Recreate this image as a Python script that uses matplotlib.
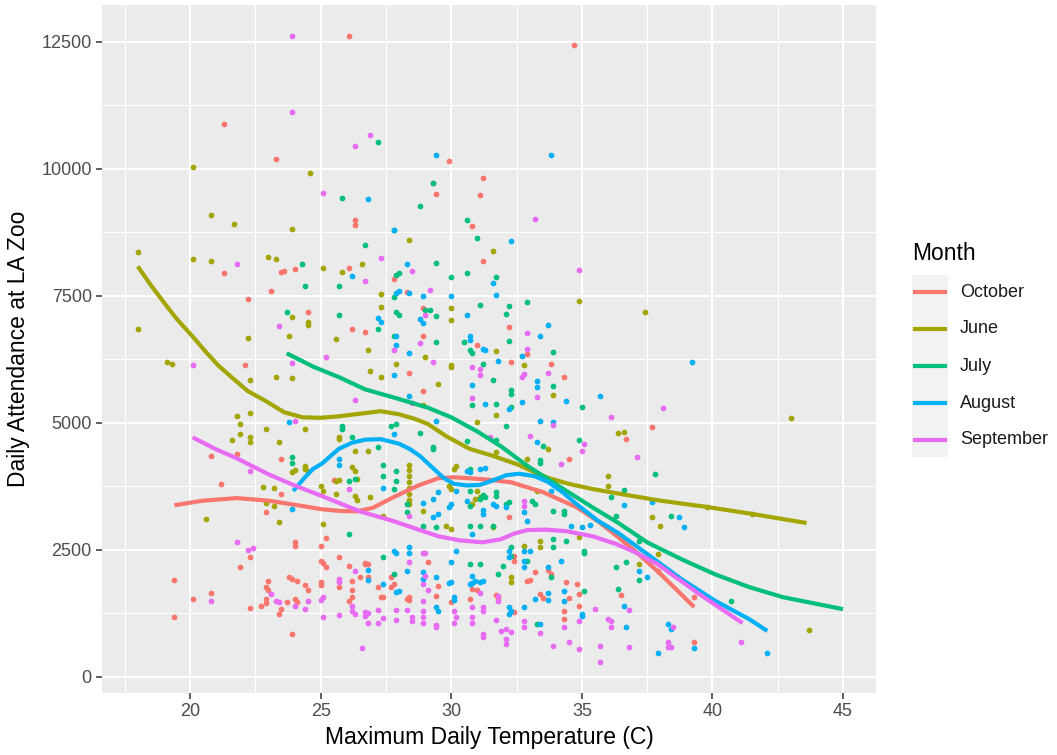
import numpy as np
import matplotlib
matplotlib.use("Agg")
import matplotlib.pyplot as plt
from matplotlib.lines import Line2D
from matplotlib.patches import Rectangle

plt.rcParams['font.family'] = ['Liberation Sans', 'DejaVu Sans']

# --- month order and ggplot hue colours ---
months = ["October", "June", "July", "August", "September"]
colors = ["#F8766D", "#A3A500", "#00BF7D", "#00B0F6", "#E76BF3"]

# --- daily points: (max temp C, attendance) ---
october_pts = [
    (21.3, 10880), (23.3, 10190), (26.3, 8900), (26.3, 9000), (26.1, 12610),
    (34.7, 12430), (29.9, 10155), (31.2, 9820), (29.3, 9720), (29.4, 9505),
    (31.1, 9485), (30.8, 8875), (21.3, 7955), (23.5, 7975), (23.6, 7990),
    (24.0, 8035), (23.1, 7600), (22.2, 7445), (26.1, 8050), (24.5, 7190),
    (26.2, 6855), (22.1, 6145), (20.8, 4340), (21.8, 4380), (23.5, 4280),
    (31.2, 8190), (27.8, 7835), (28.3, 7580), (28.9, 7265), (32.2, 6895),
    (26.7, 6795), (28.9, 6700), (28.4, 5990), (31.0, 6540), (32.3, 6205),
    (32.9, 6365), (33.8, 6165), (34.3, 5910), (28.9, 5635), (34.5, 4280),
    (36.7, 4675), (37.7, 4910), (37.9, 2080), (36.5, 1610), (39.3, 1570),
    (39.3, 690), (21.2, 3790), (22.9, 3240), (23.5, 3595), (25.5, 3870),
    (25.2, 2730), (24.0, 2650), (24.0, 2575), (25.0, 2575), (22.3, 2355),
    (21.9, 2160), (19.4, 1905), (20.1, 1530), (20.8, 1650), (19.4, 1180),
    (22.3, 1355), (23.0, 1885), (22.9, 1770), (23.0, 1710), (22.9, 1530),
    (22.9, 1455), (22.7, 1395), (23.5, 1335), (23.4, 1235), (23.7, 1475),
    (23.8, 1965), (23.9, 1925), (24.1, 1885), (24.4, 1805), (24.5, 1710),
    (24.0, 1530), (24.1, 1475), (23.9, 845), (25.0, 2280), (25.1, 2240),
    (25.2, 2160), (25.0, 1865), (25.0, 1805), (25.7, 2355), (25.7, 1770),
    (26.1, 2180), (26.2, 1885), (26.2, 1710), (26.2, 1570), (26.1, 1490),
    (26.5, 1965), (26.7, 2220), (32.2, 3140), (26.7, 2240), (26.8, 2220),
    (26.8, 1965), (27.7, 1965), (27.8, 1825), (27.7, 1770), (27.2, 1770),
    (27.3, 1570), (27.4, 1570), (28.4, 1570), (28.4, 1510), (28.3, 1530),
    (29.1, 2260), (29.5, 1790), (29.4, 1590), (30.0, 1475), (30.8, 1730),
    (31.0, 1710), (30.7, 1530), (31.7, 1610), (31.8, 1550), (32.4, 2375),
    (32.4, 2280), (33.2, 2060), (32.9, 1885), (33.0, 1905), (33.4, 1630),
    (33.5, 1550), (33.7, 2100), (33.8, 2020), (34.4, 1865), (34.5, 1550),
    (34.8, 1825), (34.9, 1630), (34.3, 1295), (34.3, 1140), (34.9, 1395),
    (32.4, 1275),
]

june_pts = [
    (20.1, 10035), (24.6, 9920), (20.8, 9090), (21.7, 8915), (23.9, 8820),
    (28.4, 8600), (18.0, 8365), (18.0, 6855), (20.1, 8230), (20.8, 8190),
    (23.0, 8270), (23.3, 8230), (25.1, 8050), (25.8, 7975), (26.6, 8130),
    (23.9, 7090), (24.5, 6990), (24.5, 6930), (23.8, 6700), (22.2, 6680),
    (25.6, 6660), (19.1, 6205), (19.3, 6165), (22.3, 5835), (23.3, 5910),
    (23.9, 5890), (21.8, 5145), (22.3, 5185), (21.9, 4970), (21.9, 4790),
    (21.6, 4655), (22.3, 4715), (22.3, 4615), (22.9, 4870), (23.4, 4615),
    (24.4, 4870), (24.4, 4145), (25.7, 4730), (25.7, 4675), (26.3, 4440),
    (26.2, 4125), (31.6, 8385), (34.9, 7405), (27.3, 7540), (27.3, 7285),
    (30.0, 7265), (30.0, 7030), (29.0, 6305), (26.8, 6440), (26.9, 6030),
    (27.3, 5910), (27.9, 6165), (29.5, 5775), (30.0, 6145), (30.0, 6090),
    (31.7, 6420), (32.8, 6145), (33.9, 5540), (31.7, 5165), (31.0, 5010),
    (28.9, 5360), (26.8, 4440), (31.7, 4420), (33.7, 4480), (32.9, 4280),
    (36.4, 4810), (37.4, 7190), (43.0, 5105), (36.6, 4830), (37.7, 3140),
    (38.0, 2965), (39.8, 3340), (41.5, 3200), (37.9, 2415), (37.2, 2220),
    (43.7, 925), (22.8, 3730), (23.2, 3710), (22.9, 3420), (23.2, 3360),
    (23.4, 3045), (20.6, 3105), (23.9, 4025), (24.0, 4065), (24.4, 4085),
    (24.5, 4045), (25.0, 3750), (25.6, 3850), (25.7, 3870), (26.3, 4045),
    (26.4, 3890), (25.1, 3655), (25.6, 3595), (26.3, 3555), (26.4, 3475),
    (25.1, 3005), (28.4, 4180), (28.4, 4065), (28.4, 3950), (28.4, 3830),
    (28.4, 3710), (28.4, 3595), (28.4, 3480), (26.9, 3535), (28.4, 3400),
    (27.4, 3160), (28.9, 3260), (29.8, 2965), (30.0, 2905), (29.9, 3750),
    (30.0, 3690), (30.1, 4085), (30.2, 4145), (30.8, 3400), (30.9, 3495),
    (31.0, 3655), (31.1, 3535), (31.6, 2945), (33.3, 3655), (36.0, 3950),
    (36.0, 3750), (34.9, 2750), (33.4, 2670), (33.4, 2555), (32.8, 2575),
    (32.3, 1965), (32.3, 1865),
]

july_pts = [
    (25.8, 9425), (27.2, 10525), (29.3, 9720), (28.8, 9270), (30.6, 8995),
    (27.8, 8800), (31.0, 8640), (26.7, 8500), (24.3, 8130), (24.4, 7700),
    (25.7, 7700), (23.7, 7190), (25.7, 7130), (23.9, 4320), (23.9, 4220),
    (25.8, 4930), (25.8, 4870), (26.2, 4730), (29.4, 8150), (30.6, 7955),
    (31.7, 7875), (27.9, 7915), (28.0, 7950), (30.0, 7875), (27.8, 7480),
    (31.1, 7325), (32.9, 7385), (32.2, 7305), (27.2, 6855), (27.9, 7190),
    (28.0, 7130), (29.0, 7225), (29.2, 7225), (29.4, 7110), (32.1, 7150),
    (27.8, 6700), (29.4, 6600), (30.5, 6600), (30.7, 6440), (30.8, 6385),
    (32.2, 6620), (33.9, 6400), (31.2, 6165), (31.6, 5835), (33.9, 5735),
    (32.3, 5655), (32.3, 5560), (32.3, 5305), (31.7, 5380), (30.8, 5360),
    (32.1, 4930), (27.9, 4970), (27.7, 4930), (28.8, 4810), (27.2, 4520),
    (29.3, 4535), (29.3, 4480), (30.6, 4635), (31.7, 4655), (33.5, 4555),
    (33.4, 4260), (33.4, 4220), (34.9, 4655), (35.0, 5320), (37.8, 3990),
    (36.6, 3675), (38.4, 3160), (37.2, 2670), (36.7, 2260), (36.3, 2160),
    (37.2, 1905), (36.4, 1730), (40.7, 1490), (26.1, 3850), (26.3, 3890),
    (26.1, 2810), (27.4, 4180), (27.4, 3950), (27.9, 4045), (27.9, 3850),
    (27.8, 3690), (28.3, 3400), (28.3, 3240), (28.9, 2965), (29.4, 2945),
    (30.7, 4085), (30.7, 3655), (30.7, 3360), (31.2, 3575), (31.3, 3535),
    (31.1, 3495), (31.1, 2965), (30.7, 2965), (31.6, 2965), (31.7, 3555),
    (31.7, 3635), (32.1, 3400), (32.2, 3435), (33.1, 3455), (33.2, 3400),
    (33.9, 3260), (34.3, 3260), (34.3, 3200), (36.1, 3535), (36.3, 3160),
    (33.9, 2710), (33.9, 2555), (34.4, 2670), (35.1, 2475), (35.1, 2435),
    (27.4, 2355), (27.8, 2020), (30.7, 2220), (31.1, 2220), (31.8, 2020),
    (32.0, 2180), (32.3, 2555), (32.3, 2375), (32.9, 2280), (33.8, 1965),
    (35.1, 1690), (33.3, 1040),
]

august_pts = [
    (29.4, 10270), (33.8, 10270), (26.8, 9405), (27.8, 8800), (32.3, 8580),
    (26.2, 7895), (23.8, 5010), (25.7, 4280), (25.7, 4180), (28.3, 8130),
    (31.6, 7760), (31.7, 7520), (27.9, 7560), (28.0, 7600), (28.4, 7560),
    (28.9, 7500), (30.0, 7500), (27.2, 7070), (27.3, 6990), (28.8, 7050),
    (28.9, 6970), (30.6, 7130), (33.7, 6935), (27.9, 6700), (27.9, 6540),
    (28.4, 6385), (27.8, 5950), (30.7, 6700), (30.7, 6640), (31.2, 6460),
    (31.3, 6440), (31.8, 6225), (32.7, 6325), (33.4, 6700), (30.8, 5755),
    (33.3, 5815), (33.3, 5715), (34.4, 5440), (32.7, 5420), (32.2, 5265),
    (31.3, 5380), (28.4, 5520), (29.4, 5030), (27.8, 4775), (33.3, 4615),
    (35.7, 5520), (33.4, 5030), (33.9, 5010), (39.2, 6205), (36.6, 3380),
    (37.7, 3435), (38.7, 3140), (38.9, 2945), (37.2, 2080), (37.5, 1965),
    (36.6, 1395), (36.7, 980), (38.3, 1040), (38.4, 945), (39.3, 570),
    (37.9, 470), (42.1, 470), (23.9, 3300), (27.4, 3710), (28.9, 3420),
    (29.3, 3495), (29.5, 3635), (29.5, 3200), (29.3, 3140), (29.9, 3340),
    (30.0, 3400), (30.2, 3655), (30.6, 4045), (30.7, 4025), (31.1, 4085),
    (31.3, 4105), (30.6, 3460), (31.2, 3280), (31.2, 3200), (30.8, 2810),
    (31.6, 3400), (31.7, 3360), (32.1, 3340), (32.8, 3240), (32.9, 3065),
    (33.8, 3655), (34.6, 2965), (35.0, 2945), (35.3, 2985), (27.8, 2475),
    (27.9, 2435), (28.4, 2555), (28.4, 2435), (26.8, 2100), (26.8, 1905),
    (27.4, 1825), (27.9, 1670), (28.0, 1690), (28.3, 2080), (28.9, 2060),
    (28.9, 1925), (29.4, 1965), (30.0, 2260), (30.2, 2475), (30.0, 1865),
    (29.9, 1845), (30.1, 1570), (30.1, 1510), (30.8, 1985), (30.7, 1825),
    (30.8, 1845), (30.9, 1885), (31.1, 1865), (31.2, 1885), (32.2, 2355),
    (32.2, 2475), (32.8, 2475), (33.0, 2475), (32.8, 2160), (32.8, 2280),
    (33.2, 1530), (33.7, 2160), (34.2, 2280), (34.3, 1690), (34.3, 1490),
    (35.0, 1235), (35.0, 1200), (29.4, 1375), (29.5, 1295), (32.2, 1375),
    (32.2, 1235), (32.3, 1295), (32.8, 1375), (33.4, 1040), (33.7, 1650),
    (33.7, 1510),
]

september_pts = [
    (23.9, 12610), (23.9, 11115), (26.3, 10450), (25.1, 9525), (26.9, 10665),
    (33.2, 9015), (21.8, 8130), (23.4, 6915), (25.2, 6305), (20.1, 6130),
    (23.9, 6185), (26.3, 5460), (24.0, 5030), (27.3, 8250), (28.5, 7995),
    (34.9, 8015), (26.7, 7795), (29.2, 7620), (29.0, 7130), (27.8, 6440),
    (28.8, 6580), (29.3, 6205), (32.9, 6775), (32.9, 6460), (30.8, 6090),
    (31.1, 6070), (31.1, 5950), (32.7, 5910), (32.8, 5970), (33.7, 5990),
    (33.3, 5500), (30.8, 5480), (28.5, 5400), (31.5, 4715), (33.0, 4735),
    (34.2, 4200), (35.0, 4440), (35.1, 4575), (36.1, 5125), (33.9, 4950),
    (38.1, 5285), (37.1, 4320), (36.8, 1315), (38.5, 980), (36.8, 590),
    (38.3, 690), (38.3, 590), (38.4, 590), (41.1, 690), (22.3, 4045),
    (26.1, 3690), (21.8, 2650), (22.2, 2495), (22.4, 2535), (20.8, 1490),
    (23.1, 1630), (23.3, 1490), (23.4, 1475), (24.0, 1395), (24.4, 1335),
    (24.5, 1490), (25.0, 1510), (25.1, 1570), (25.1, 1180), (25.7, 1925),
    (25.7, 1865), (25.7, 1220), (26.3, 2080), (26.2, 1395), (26.2, 1295),
    (26.3, 1235), (26.6, 570), (28.4, 3160), (32.8, 3455), (32.8, 3360),
    (28.9, 2435), (29.0, 2435), (28.4, 2260), (28.9, 1825), (29.0, 1985),
    (29.1, 1710), (31.1, 1650), (31.8, 1590), (31.8, 1490), (35.5, 1335),
    (36.0, 1140), (36.1, 1100), (36.1, 980), (26.7, 1275), (26.7, 1200),
    (26.8, 1255), (26.8, 1060), (27.2, 1315), (27.2, 1060), (27.4, 1160),
    (27.9, 1315), (27.9, 1120), (28.3, 1315), (28.5, 1180), (28.5, 1100),
    (28.9, 1490), (28.9, 1295), (28.9, 1180), (28.9, 1060), (29.4, 1020),
    (29.4, 980), (30.1, 1295), (30.2, 1180), (30.1, 1060), (30.8, 1375),
    (30.8, 1180), (30.8, 1060), (31.2, 1375), (31.2, 1295), (31.2, 845),
    (31.2, 785), (31.7, 1120), (31.9, 905), (32.1, 945), (32.3, 885),
    (32.1, 745), (32.1, 650), (32.8, 1100), (32.8, 980), (33.4, 865),
    (33.9, 610), (34.3, 980), (34.5, 690), (34.9, 1100), (34.9, 550),
    (35.7, 610), (35.7, 295),
]

# --- smoothed trend per month ---
october_fit = [
    (19.4, 3380), (20.5, 3470), (21.8, 3520), (23.0, 3470), (24.0, 3390),
    (25.05, 3300), (25.8, 3265), (26.4, 3260), (27.0, 3330), (27.8, 3540),
    (28.7, 3760), (29.5, 3910), (30.1, 3930), (30.7, 3910), (31.5, 3880),
    (32.3, 3830), (33.5, 3640), (34.8, 3340), (35.6, 3070), (36.3, 2790),
    (37.1, 2450), (37.9, 2080), (38.6, 1730), (39.3, 1375),
]
june_fit = [
    (18.0, 8080), (18.5, 7710), (19.0, 7370), (19.5, 7040), (20.1, 6700),
    (20.6, 6400), (21.1, 6120), (21.7, 5850), (22.2, 5630), (22.9, 5430),
    (23.6, 5210), (24.3, 5110), (25.0, 5100), (25.7, 5130), (26.5, 5180),
    (27.3, 5230), (28.0, 5170), (28.6, 5080), (29.1, 4980), (29.8, 4740),
    (30.7, 4490), (31.6, 4350), (32.5, 4190), (33.1, 4050), (33.7, 3920),
    (34.5, 3800), (35.4, 3700), (36.5, 3600), (38.0, 3470), (39.8, 3345),
    (41.5, 3210), (43.6, 3030),
]
july_fit = [
    (23.7, 6370), (24.7, 6110), (25.7, 5900), (26.7, 5660), (27.8, 5500),
    (29.1, 5300), (30.0, 5110), (31.0, 4830), (31.9, 4540), (32.9, 4160),
    (34.2, 3730), (35.4, 3340), (36.4, 3030), (37.5, 2650), (38.8, 2320),
    (40.1, 2020), (41.4, 1770), (42.7, 1570), (45.0, 1335),
]
august_fit = [
    (23.95, 3660), (24.4, 3930), (24.7, 4090), (25.05, 4200), (25.7, 4490),
    (26.2, 4610), (26.7, 4670), (27.3, 4680), (28.0, 4590), (28.4, 4490),
    (28.8, 4350), (29.3, 4110), (29.7, 3920), (30.1, 3800), (30.6, 3770),
    (31.1, 3780), (31.6, 3870), (32.1, 3970), (32.6, 4000), (33.2, 3950),
    (33.7, 3840), (34.3, 3620), (34.8, 3400), (35.6, 3080), (36.4, 2830),
    (37.5, 2420), (38.8, 1930), (40.1, 1500), (41.4, 1140), (42.1, 905),
]
september_fit = [
    (20.1, 4715), (21.0, 4480), (21.8, 4300), (23.0, 3990), (23.9, 3790),
    (25.05, 3560), (26.5, 3260), (27.8, 3065), (29.5, 2770), (30.3, 2690),
    (31.2, 2650), (31.9, 2710), (32.4, 2820), (32.9, 2890), (33.6, 2900),
    (34.4, 2870), (35.4, 2770), (36.3, 2620), (37.1, 2440), (37.9, 2220),
    (39.5, 1630), (41.15, 1060),
]

points = [october_pts, june_pts, july_pts, august_pts, september_pts]
fits = [october_fit, june_fit, july_fit, august_fit, september_fit]

x_ticks = [20, 25, 30, 35, 40, 45]
y_ticks = [0, 2500, 5000, 7500, 10000, 12500]

# --- figure (ggplot grey theme look) ---
W, H = 1057, 755
fig = plt.figure(figsize=(W / 100, H / 100), dpi=100)
ax = fig.add_axes([102 / W, 1 - 693 / H, 774 / W, 688 / H])
ax.set_facecolor("#EBEBEB")
for s in ax.spines.values():
    s.set_visible(False)

ax.set_xlim(16.63, 46.26)
ax.set_ylim(-315, 13223)

ax.set_xticks(x_ticks)
ax.set_yticks(y_ticks)
ax.set_xticks(np.arange(17.5, 45, 5), minor=True)
ax.set_yticks(np.arange(1250, 12500, 2500), minor=True)
ax.grid(which="major", color="white", lw=1.5)
ax.grid(which="minor", color="white", lw=0.75)
ax.set_axisbelow(True)
ax.tick_params(which="major", length=4.3, width=1.1, color="#333333",
               labelsize=13, labelcolor="#4D4D4D", pad=3)
ax.tick_params(which="minor", length=0)

for pts, c in zip(points, colors):
    t, a = zip(*pts)
    ax.scatter(t, a, s=17, color=c, linewidths=0, zorder=2)

for fit, c in zip(fits, colors):
    t, a = zip(*fit)
    ax.plot(t, a, color=c, lw=3.0, solid_capstyle="butt",
            solid_joinstyle="round", zorder=3)

ax.set_xlabel("Maximum Daily Temperature (C)", fontsize=16.5, labelpad=4)
ax.set_ylabel("Daily Attendance at LA Zoo", fontsize=16.5, labelpad=8)

# --- legend drawn by hand ---
def fx(px):
    return px / W


def fy(py):
    return 1 - py / H


fig.text(fx(912), fy(253), "Month", fontsize=16.5, va="center", ha="left")
fig.add_artist(Rectangle((fx(912), fy(457)), fx(36), 182 / H,
                         transform=fig.transFigure, color="#F2F2F2", lw=0))
for i, (m, c) in enumerate(zip(months, colors)):
    yy = fy(292 + i * 37)
    fig.add_artist(Line2D([fx(915), fx(945)], [yy, yy], color=c, lw=3.0,
                          transform=fig.transFigure))
    fig.text(fx(960), yy, m, fontsize=13, va="center", ha="left",
             color="#1A1A1A")

fig.savefig("out.png", dpi=100)
